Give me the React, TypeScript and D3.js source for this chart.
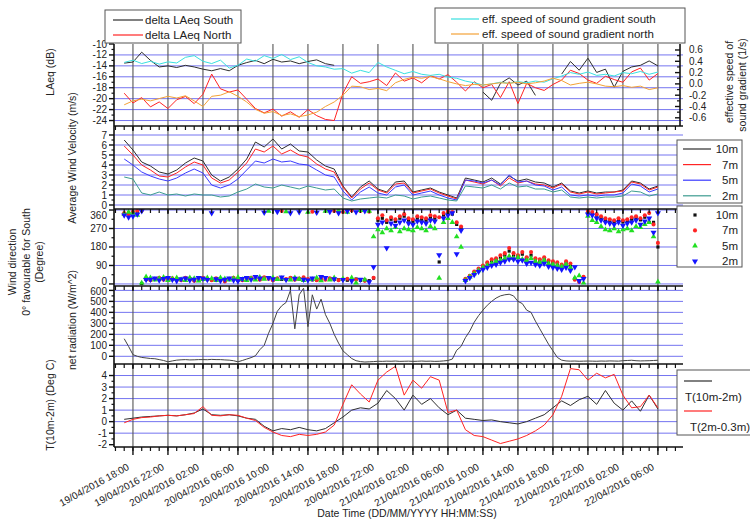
import React, { useEffect, useRef } from 'react';
import * as d3 from 'd3';

// first sample of every series: 19/04/2016 17:00, hourly or half-hourly after that
const firstSample = new Date(2016, 3, 19, 17, 0);

const timeTickLabels = [
  '19/04/2016 18:00', '19/04/2016 22:00', '20/04/2016 02:00', '20/04/2016 06:00',
  '20/04/2016 10:00', '20/04/2016 14:00', '20/04/2016 18:00', '20/04/2016 22:00',
  '21/04/2016 02:00', '21/04/2016 06:00', '21/04/2016 10:00', '21/04/2016 14:00',
  '21/04/2016 18:00', '21/04/2016 22:00', '22/04/2016 02:00', '22/04/2016 06:00'
];

// hourly series (dB)
const laeqSouth = [
  -13.5, -13.3, -11.5, -13.0, -14.2, -14.0, -14.3, -13.9, -14.2, -14.6, -14.9, -14.5, -14.9,
  -13.9, -13.4, -13.0, -13.6, -12.8, -13.3, -13.1, -13.6, -13.2, -12.9, -13.6, -13.9,
  null, null, null, null, null, null, null, null, null, null, null, null, null, null, null, null,
  -18.8, -20.3, -17.2, -16.2, -17.5, -16.8, -19.4, null, null, -15.5, -13.2, -14.8, -12.6,
  -15.2, -14.6, -17.9, -15.0, -14.2, -13.9, -13.1, -14.0
];
const laeqNorth = [
  -19.0, -20.8, -19.8, -21.5, -20.6, -21.8, -20.2, -19.6, -20.9, -19.2, -15.5, -18.2, -18.8,
  -18.4, -20.1, -21.8, -22.6, -21.9, -23.2, -22.4, -23.4, -22.0, -23.1, -23.8, -24.0, -19.0,
  -16.0, -17.2, -16.9, -16.4, -17.6, -15.3, -16.8, -16.2, -17.1, -15.8, -16.4, -15.6, -17.0,
  -18.6, -16.9, -18.0, -17.4, -19.8, -16.9, -20.9, -17.2, -18.0, -18.5, -17.4, -16.6, -14.8,
  -15.4, -16.6, -17.2, -15.9, -16.5, -17.0, -15.1, -14.4, -16.6, -15.4
];
// hourly series (1/s)
const gradSouth = [
  0.38, 0.42, 0.36, 0.40, 0.35, 0.39, 0.37, 0.47, 0.50, 0.40, 0.36, 0.42, 0.28, 0.33, 0.44,
  0.40, 0.50, 0.45, 0.52, 0.43, 0.48, 0.38, 0.32, 0.30, 0.26, 0.27, 0.19, 0.24, 0.20, 0.38,
  0.30, 0.24, 0.18, 0.22, 0.17, 0.15, 0.17, 0.12, 0.10, 0.05, 0.02, -0.02, 0.00, 0.03, 0.01,
  0.04, 0.02, 0.05, 0.03, 0.09, 0.14, 0.20, 0.17, 0.21, 0.15, 0.17, 0.14, 0.20, 0.18, 0.22,
  0.17, 0.21
];
const gradNorth = [
  -0.37, -0.30, -0.27, -0.30, -0.26, -0.22, -0.25, -0.21, -0.30, -0.40, -0.22, -0.20, -0.14,
  -0.22, -0.32, -0.45, -0.52, -0.49, -0.56, -0.53, -0.58, -0.55, -0.50, -0.40, -0.32, -0.20,
  -0.04, -0.05, -0.10, -0.08, -0.12, 0.02, 0.08, 0.12, 0.10, 0.13, 0.09, 0.04, 0.00, -0.03,
  -0.01, -0.02, 0.00, 0.02, 0.01, 0.03, 0.00, 0.02, 0.05, 0.10, 0.06, -0.02, 0.01, 0.03, 0.00,
  -0.04, -0.05, -0.03, -0.06, -0.04, -0.10, -0.07
];
// hourly wind speed (m/s)
const wind10m = [
  6.5, 5.5, 4.3, 3.9, 3.3, 3.1, 3.5, 4.2, 4.7, 4.4, 3.0, 2.4, 2.8, 3.6, 4.6, 6.3, 5.8, 6.6,
  5.6, 6.1, 5.4, 5.3, 4.5, 3.9, 3.6, 1.9, 0.8, 1.8, 2.4, 1.6, 1.3, 2.3, 2.4, 1.3, 1.5, 1.7,
  1.3, 1.0, 0.7, 2.7, 2.5, 2.3, 2.7, 2.1, 2.9, 2.4, 2.6, 2.3, 2.2, 1.8, 2.2, 1.4, 1.2, 1.4,
  1.2, 1.3, 1.3, 1.5, 2.4, 2.2, 1.6, 1.9
];
const wind7m = [
  5.9, 5.0, 4.0, 3.5, 2.9, 2.8, 3.2, 3.8, 4.3, 4.0, 2.7, 2.2, 2.5, 3.3, 4.2, 5.6, 5.3, 5.9,
  5.1, 5.5, 5.0, 4.8, 4.1, 3.6, 3.3, 1.8, 0.7, 1.6, 2.2, 1.5, 1.2, 2.1, 2.2, 1.2, 1.4, 1.6,
  1.2, 0.9, 0.6, 2.5, 2.3, 2.1, 2.5, 1.9, 2.7, 2.2, 2.4, 2.1, 2.0, 1.7, 2.1, 1.3, 1.1, 1.3,
  1.1, 1.2, 1.3, 1.4, 2.3, 2.1, 1.5, 1.8
];
const wind5m = [
  4.6, 4.0, 3.3, 2.9, 2.6, 2.4, 2.7, 3.2, 3.6, 3.2, 2.0, 1.7, 2.0, 2.6, 3.5, 4.4, 4.2, 4.6,
  4.3, 4.4, 4.1, 4.0, 3.5, 3.0, 2.8, 1.4, 0.5, 1.3, 1.8, 1.2, 1.0, 1.8, 2.0, 1.0, 1.2, 1.4,
  1.0, 0.7, 0.5, 2.5, 2.4, 2.2, 2.5, 2.0, 3.0, 2.3, 2.4, 2.0, 1.9, 1.5, 1.8, 1.0, 0.9, 1.0,
  0.9, 1.0, 1.0, 1.2, 2.1, 1.9, 1.3, 1.6
];
const wind2m = [
  2.8, 2.6, 1.2, 1.0, 1.3, 1.0, 1.1, 0.9, 1.1, 1.0, 1.0, 0.8, 0.9, 1.3, 1.6, 2.1, 1.8, 1.7,
  2.0, 1.8, 1.6, 1.9, 1.7, 1.5, 1.6, 0.7, 0.4, 0.6, 0.7, 0.8, 0.7, 1.0, 0.9, 0.6, 0.8, 0.9,
  0.7, 0.5, 0.4, 1.9, 1.8, 1.7, 2.0, 1.6, 2.2, 1.8, 1.9, 1.6, 1.6, 1.3, 1.5, 0.8, 0.7, 0.8,
  0.7, 0.8, 0.8, 0.9, 1.4, 1.3, 0.9, 1.1
];
// half-hourly wind direction (degree)
const dir10m = [
  340, 345, 350, 352, 2, 22, 20, 26, 24, 22, 26, 24, 22, 20, 26, 24, 18, 24, 28, 22,
  20, 26, 20, 16, 24, 26, 18, 20, 26, 28, 24, 22, 30, 26, 20, 26, 22, 22, 28, 22,
  24, 28, 22, 20, 20, 24, 22, 26, 22, 20, 22, 18, 20, 24, 18, 20, 16, 28, 310, 320,
  300, 315, 305, 320, 330, 310, 305, 320, 315, 310, 325, 320, 107, 335, 345, 340, 290, 270, 22, 38,
  55, 70, 85, 100, 112, 118, 130, 140, 160, 140, 135, 145, 125, 140, 120, 112, 122, 108, 102, 98,
  90, 100, 92, 25, 15, 30, 350, 345, 335, 322, 312, 308, 302, 312, 302, 308, 315, 322, 312, 325,
  300, 300, 180
];
const dir7m = [
  345, 340, 350, 355, 358, 25, 18, 25, 30, 20, 22, 28, 20, 18, 30, 25, 15, 22, 30, 24,
  18, 28, 22, 12, 25, 30, 20, 18, 24, 30, 26, 20, 32, 25, 18, 28, 355, 24, 30, 20,
  26, 32, 24, 352, 18, 26, 20, 28, 355, 18, 350, 25, 358, 20, 355, 15, 352, 30, 320, 335,
  310, 325, 315, 330, 340, 320, 315, 330, 325, 320, 335, 330, 325, 345, 355, 350, 300, 280, 25, 40,
  60, 75, 90, 105, 120, 125, 140, 150, 175, 150, 140, 155, 130, 155, 125, 120, 130, 115, 110, 105,
  95, 110, 100, 20, 10, 35, 355, 350, 340, 330, 320, 315, 310, 320, 310, 315, 325, 330, 320, 335,
  345, 290, 200
];
const dir5m = [
  340, 350, 345, 335, 5, 35, 30, 20, 26, 32, 18, 25, 30, 22, 18, 30, 26, 15, 22, 30,
  26, 18, 30, 25, 20, 26, 32, 22, 18, 26, 20, 32, 24, 355, 30, 22, 26, 352, 20, 30,
  24, 18, 350, 22, 30, 16, 355, 20, 30, 358, 25, 350, 30, 5, 358, 20, 355, 230, 265, 250,
  270, 260, 275, 255, 270, 265, 260, 275, 270, 260, 280, 270, 29, 300, 320, 300, 230, 180, 18, 35,
  50, 65, 80, 90, 100, 110, 115, 125, 135, 125, 130, 120, 115, 125, 110, 105, 115, 100, 95, 90,
  85, 95, 80, 30, 40, 5, 330, 310, 300, 280, 265, 260, 270, 255, 265, 270, 260, 280, 275, 290,
  300, 230, 10
];
const dir2m = [
  335, 325, 330, 340, 355, 20, 22, 28, 18, 25, 30, 20, 15, 24, 28, 18, 22, 30, 26, 20,
  345, 24, 16, 22, 28, 18, 14, 25, 30, 22, 35, 28, 348, 30, 24, 352, 32, 20, 345, 26,
  350, 22, 18, 28, 348, 35, 30, 352, 24, 345, 20, 355, 15, 350, 22, 355, 10, 83, 290, 300,
  175, 295, 285, 300, 310, 295, 290, 305, 300, 295, 310, 305, 141, 320, 335, 345, 146, 260, 15, 30,
  45, 60, 70, 80, 90, 95, 105, 110, 120, 120, 110, 115, 100, 105, 95, 90, 100, 85, 80, 75,
  70, 80, 65, 83, 15, 25, 340, 335, 320, 310, 300, 295, 290, 300, 285, 295, 300, 310, 290, 305,
  320, 250, 345
];
// half-hourly net radiation (W/m^2)
const netRadiation = [
  160, 90, 15, 0, -10, -15, -20, -22, -30, -38, -50, -42, -35, -32, -30, -33, -32, -30, -30, -31,
  -28, -30, -30, -33, -35, -40, -50, -38, -25, -12, 5, 60, 100, 210, 300, 410, 460, 490, 600, 250,
  560, 620, 270, 560, 430, 520, 380, 300, 200, 120, 50, 15, -20, -40, -48, -52, -50, -48, -45, -46,
  -44, -45, -43, -46, -45, -44, -46, -45, -43, -45, -44, -46, -45, -42, -38, -25, 55, 90, 170, 230,
  310, 370, 420, 465, 500, 530, 550, 560, 565, 550, 500, 480, 420, 400, 320, 250, 180, 110, 50, -10,
  -35, -42, -44, -43, -45, -44, -43, -44, -45, -43, -44, -42, -43, -44, -40, -38, -36, -40, -42, -41,
  -40, -38, -36
];
// hourly temperature differences (Deg C)
const t10m2m = [
  0.2, 0.3, 0.4, 0.45, 0.5, 0.55, 0.5, 0.6, 0.75, 1.1, 0.6, 0.55, 0.6, 0.5, 0.3, 0.2, -0.4,
  -0.8, -0.6, -0.7, -0.5, -0.7, -0.8, -0.6, -0.1, 0.4, 1.0, 1.2, 1.1, 1.6, 2.7, 2.0, 1.0, 2.3,
  1.5, 2.0, 1.2, 0.6, 1.0, 0.3, 0.2, 0.1, 0.15, 0.0, -0.1, -0.2, 0.0, 0.3, 0.6, 1.2, 1.8, 1.4,
  1.9, 2.2, 1.5, 2.7, 1.6, 1.0, 1.8, 0.9, 2.3, 1.1
];
const t2m03m = [
  -0.1, 0.2, 0.35, 0.4, 0.5, 0.55, 0.5, 0.6, 0.7, 1.3, 0.55, 0.5, 0.6, 0.55, 0.3, 0.1, -0.5,
  -0.9, -1.2, -1.3, -1.1, -1.2, -1.1, -0.9, -0.3, 1.5, 3.2, 2.4, 1.7, 3.6, 4.3, 4.8, 2.3, 3.6,
  2.9, 3.9, 3.6, 0.8, 1.0, -0.7, -1.2, -1.3, -1.6, -1.9, -1.7, -1.5, -1.2, -0.8, -0.3, 0.6,
  2.2, 4.6, 4.5, 3.6, 4.2, 3.8, 4.1, 2.3, 1.2, 1.3, 2.3, 1.2
];

const laeqTicks = [-10, -12, -14, -16, -18, -20, -22, -24];
const gradientTicks = [0.6, 0.4, 0.2, 0, -0.2, -0.4, -0.6];
const windTicks = [0, 1, 2, 3, 4, 5, 6, 7];
const directionTicks = [0, 90, 180, 270, 360];
const radiationTicks = [0, 100, 200, 300, 400, 500, 600];
const tempTicks = [-2, -1, 0, 1, 2, 3, 4];

const FONT = 'Liberation Sans, Arial, Helvetica, sans-serif';
const BLACK = '#2e2e2e';
const RED = '#ff2424';
const CYAN = '#3ae0e0';
const ORANGE = '#f4a236';
const BLUE = '#3a3aff';
const TEAL = '#3c9c90';
const GREEN = '#22e022';
const GRID = '#7474f0';

const App = () => {
  const chartRef = useRef<SVGSVGElement>(null);

  useEffect(() => {
    drawChart();
  }, []);

  const drawChart = () => {
    const svg = d3.select(chartRef.current);
    svg.selectAll('*').remove();

    const left = 114;
    const right = 683;
    const x = d3
      .scaleTime()
      .domain([new Date(2016, 3, 19, 15, 50), new Date(2016, 3, 22, 8, 52)])
      .range([left, right]);
    const hourAt = (i: number) => d3.timeHour.offset(firstSample, i);
    const halfAt = (i: number) => d3.timeMinute.offset(firstSample, i * 30);
    const majorTimes = timeTickLabels.map(d3.timeParse('%d/%m/%Y %H:%M')) as Date[];
    const minorTimes = d3.timeHour.range(x.domain()[0], x.domain()[1]);

    // shift: small nudge of tick labels that sit on a panel edge, so neighbours don't collide
    const panels = [
      { top: 44, bottom: 126, y: d3.scaleLinear().domain([-25, -10]).range([126, 44]), ticks: laeqTicks, grid: laeqTicks.filter(v => v < -10), shift: (v: number) => 0 },
      { top: 126, bottom: 209, y: d3.scaleLinear().domain([-0.4, 7.9]).range([209, 126]), ticks: windTicks, grid: windTicks, shift: (v: number) => 0 },
      { top: 209, bottom: 286, y: d3.scaleLinear().domain([-10, 365]).range([286, 209]), ticks: directionTicks, grid: directionTicks, shift: (v: number) => (v === 360 ? 5 : v === 0 ? -2 : 0) },
      { top: 286, bottom: 364, y: d3.scaleLinear().domain([-70, 640]).range([364, 286]), ticks: radiationTicks, grid: radiationTicks, shift: (v: number) => (v === 600 ? 1.5 : 0) },
      { top: 364, bottom: 447, y: d3.scaleLinear().domain([-2.2, 5]).range([447, 364]), ticks: tempTicks, grid: tempTicks.filter(v => v > -2), shift: (v: number) => 0 }
    ];
    const yGrad = d3.scaleLinear().domain([-0.745, 0.706]).range([126, 44]);

    const defs = svg.append('defs');
    panels.forEach((p, i) => {
      defs
        .append('clipPath')
        .attr('id', `clip-${i}`)
        .append('rect')
        .attr('x', left)
        .attr('y', p.top)
        .attr('width', right - left)
        .attr('height', p.bottom - p.top);
    });

    // grid lines
    const grid = svg.append('g');
    panels.forEach(p => {
      grid
        .selectAll(null)
        .data(p.grid)
        .join('line')
        .attr('x1', left)
        .attr('x2', right)
        .attr('y1', d => p.y(d))
        .attr('y2', d => p.y(d))
        .attr('stroke', GRID)
        .attr('stroke-width', 1);
    });
    grid
      .selectAll(null)
      .data(majorTimes)
      .join('line')
      .attr('x1', d => x(d))
      .attr('x2', d => x(d))
      .attr('y1', 44)
      .attr('y2', 447)
      .attr('stroke', '#555')
      .attr('stroke-width', 1.1);

    // data lines
    const drawLine = (pi: number, values: (number | null)[], at: (i: number) => Date, y: d3.ScaleLinear<number, number>, color: string) => {
      const line = d3
        .line<number | null>()
        .defined(d => d != null)
        .x((d, i) => x(at(i)))
        .y(d => y(d as number));
      svg
        .append('path')
        .datum(values)
        .attr('clip-path', `url(#clip-${pi})`)
        .attr('d', line)
        .attr('fill', 'none')
        .attr('stroke', color)
        .attr('stroke-width', 1);
    };

    drawLine(0, laeqSouth, hourAt, panels[0].y, BLACK);
    drawLine(0, laeqNorth, hourAt, panels[0].y, RED);
    drawLine(0, gradSouth, hourAt, yGrad, CYAN);
    drawLine(0, gradNorth, hourAt, yGrad, ORANGE);

    drawLine(1, wind10m, hourAt, panels[1].y, BLACK);
    drawLine(1, wind7m, hourAt, panels[1].y, RED);
    drawLine(1, wind5m, hourAt, panels[1].y, BLUE);
    drawLine(1, wind2m, hourAt, panels[1].y, TEAL);

    drawLine(3, netRadiation, halfAt, panels[3].y, '#444');

    drawLine(4, t10m2m, hourAt, panels[4].y, BLACK);
    drawLine(4, t2m03m, hourAt, panels[4].y, RED);

    // wind direction scatter
    const markers = [
      { values: dir10m, color: '#111', symbol: d3.symbolSquare, size: 10, rotate: 0 },
      { values: dir7m, color: RED, symbol: d3.symbolCircle, size: 13, rotate: 0 },
      { values: dir5m, color: GREEN, symbol: d3.symbolTriangle, size: 14, rotate: 0 },
      { values: dir2m, color: '#1414ff', symbol: d3.symbolTriangle, size: 16, rotate: 180 }
    ];
    markers.forEach(m => {
      svg
        .append('g')
        .attr('clip-path', 'url(#clip-2)')
        .selectAll('path')
        .data(m.values)
        .join('path')
        .attr('d', d3.symbol().type(m.symbol).size(m.size))
        .attr('transform', (d, i) => `translate(${x(halfAt(i))},${panels[2].y(d)}) rotate(${m.rotate})`)
        .attr('fill', m.color);
    });

    // x axis lines with ticks at the top of panels 2-5 and the bottom of panel 5
    const axisYs = [126, 209, 286, 364, 447];
    axisYs.forEach(ay => {
      const a = svg.append('g');
      a.append('line')
        .attr('x1', left)
        .attr('x2', right)
        .attr('y1', ay)
        .attr('y2', ay)
        .attr('stroke', '#111')
        .attr('stroke-width', 1.6);
      a.selectAll(null)
        .data(minorTimes)
        .join('line')
        .attr('x1', d => x(d))
        .attr('x2', d => x(d))
        .attr('y1', ay)
        .attr('y2', ay + 4)
        .attr('stroke', '#111')
        .attr('stroke-width', 1.2);
      a.selectAll(null)
        .data(majorTimes)
        .join('line')
        .attr('x1', d => x(d))
        .attr('x2', d => x(d))
        .attr('y1', ay)
        .attr('y2', ay + (ay === 447 ? 8 : 5))
        .attr('stroke', '#111')
        .attr('stroke-width', 1.4);
    });

    // left axis
    svg
      .append('line')
      .attr('x1', left)
      .attr('x2', left)
      .attr('y1', 44)
      .attr('y2', 447)
      .attr('stroke', '#111')
      .attr('stroke-width', 1.6);
    panels.forEach(p => {
      const a = svg.append('g');
      const minor = d3.range(p.ticks.length - 1).map(i => (p.ticks[i] + p.ticks[i + 1]) / 2);
      a.selectAll(null)
        .data(minor)
        .join('line')
        .attr('x1', left - 2.5)
        .attr('x2', left)
        .attr('y1', d => p.y(d))
        .attr('y2', d => p.y(d))
        .attr('stroke', '#111')
        .attr('stroke-width', 1.2);
      a.selectAll(null)
        .data(p.ticks)
        .join('line')
        .attr('x1', left - 5)
        .attr('x2', left)
        .attr('y1', d => p.y(d))
        .attr('y2', d => p.y(d))
        .attr('stroke', '#111')
        .attr('stroke-width', 1.4);
      a.selectAll(null)
        .data(p.ticks)
        .join('text')
        .attr('x', left - 7)
        .attr('y', d => p.y(d) + 3.5 + p.shift(d))
        .attr('text-anchor', 'end')
        .attr('font-family', FONT)
        .attr('font-size', 10)
        .attr('fill', '#222')
        .text(d => String(d));
    });

    // right axis of the top panel
    const ra = svg.append('g');
    ra.append('line')
      .attr('x1', 680)
      .attr('x2', 680)
      .attr('y1', 44)
      .attr('y2', 126)
      .attr('stroke', '#111')
      .attr('stroke-width', 1.6);
    const gradMinor = d3.range(gradientTicks.length - 1).map(i => (gradientTicks[i] + gradientTicks[i + 1]) / 2);
    ra.selectAll(null)
      .data(gradMinor)
      .join('line')
      .attr('x1', 677)
      .attr('x2', 680)
      .attr('y1', d => yGrad(d))
      .attr('y2', d => yGrad(d))
      .attr('stroke', '#111')
      .attr('stroke-width', 1.2);
    ra.selectAll(null)
      .data(gradientTicks)
      .join('line')
      .attr('x1', 675)
      .attr('x2', 680)
      .attr('y1', d => yGrad(d))
      .attr('y2', d => yGrad(d))
      .attr('stroke', '#111')
      .attr('stroke-width', 1.4);
    ra.selectAll(null)
      .data(gradientTicks)
      .join('text')
      .attr('x', 689)
      .attr('y', d => yGrad(d) + 3.5)
      .attr('font-family', FONT)
      .attr('font-size', 10)
      .attr('fill', '#222')
      .text(d => d.toFixed(1));

    // time tick labels
    svg
      .append('g')
      .selectAll('text')
      .data(majorTimes)
      .join('text')
      .attr('transform', d => `translate(${x(d) - 3},${469}) rotate(-29)`)
      .attr('text-anchor', 'end')
      .attr('font-family', FONT)
      .attr('font-size', 10)
      .attr('fill', '#222')
      .text((d, i) => timeTickLabels[i]);

    // axis titles
    const title = (tx: number, ty: number, text: string, rotate = -90) =>
      svg
        .append('text')
        .attr('transform', `translate(${tx},${ty}) rotate(${rotate})`)
        .attr('text-anchor', 'middle')
        .attr('font-family', FONT)
        .attr('font-size', 10.5)
        .attr('fill', '#222')
        .text(text);
    title(54, 72, 'LAeq (dB)');
    title(76, 158, 'Average Wind Velocity (m/s)');
    title(16, 262, 'Wind direction');
    title(30, 262, '0° favourable for South');
    title(43, 262, '(Degree)');
    title(76, 320, 'net radiation (W/m^2)');
    title(54, 405, 'T(10m-2m) (Deg C)');
    title(733, 82, 'effective speed of');
    title(746, 85, 'sound gradient (1/s)');
    title(407, 517, 'Date Time (DD/MM/YYYY HH:MM:SS)', 0);

    // legends
    const box = (bx: number, by: number, bw: number, bh: number) =>
      svg
        .append('rect')
        .attr('x', bx)
        .attr('y', by)
        .attr('width', bw)
        .attr('height', bh)
        .attr('fill', '#fff')
        .attr('stroke', '#555')
        .attr('stroke-width', 1);
    const legendLine = (x1: number, x2: number, ly: number, color: string) =>
      svg
        .append('line')
        .attr('x1', x1)
        .attr('x2', x2)
        .attr('y1', ly)
        .attr('y2', ly)
        .attr('stroke', color)
        .attr('stroke-width', 1.2);
    const legendText = (lx: number, ly: number, text: string, anchor = 'start') =>
      svg
        .append('text')
        .attr('x', lx)
        .attr('y', ly)
        .attr('text-anchor', anchor)
        .attr('font-family', FONT)
        .attr('font-size', 11.5)
        .attr('fill', '#222')
        .text(text);

    box(105, 10, 136, 33);
    [
      { label: 'delta LAeq South', color: BLACK },
      { label: 'delta LAeq North', color: RED }
    ].forEach((e, i) => {
      legendLine(113, 143, 20 + i * 15, e.color);
      legendText(145, 24 + i * 15, e.label);
    });

    box(435, 8, 250, 35);
    [
      { label: 'eff. speed of sound gradient south', color: CYAN },
      { label: 'eff. speed of sound gradient north', color: ORANGE }
    ].forEach((e, i) => {
      legendLine(451, 479, 19 + i * 15, e.color);
      legendText(482, 23 + i * 15, e.label);
    });

    box(677, 140, 65, 63);
    [
      { label: '10m', color: BLACK },
      { label: '7m', color: RED },
      { label: '5m', color: BLUE },
      { label: '2m', color: TEAL }
    ].forEach((e, i) => {
      legendLine(683, 711, 149 + i * 15.6, e.color);
      legendText(738, 153 + i * 15.6, e.label, 'end');
    });

    box(677, 206, 65, 61);
    markers.forEach((m, i) => {
      const label = ['10m', '7m', '5m', '2m'][i];
      svg
        .append('path')
        .attr('d', d3.symbol().type(m.symbol).size(m.size)())
        .attr('transform', `translate(695,${215 + i * 15.4}) rotate(${m.rotate})`)
        .attr('fill', m.color);
      legendText(738, 219 + i * 15.4, label, 'end');
    });

    box(677, 370, 80, 65);
    legendLine(684, 712, 381, BLACK);
    legendText(685, 401, 'T(10m-2m)');
    legendLine(684, 712, 411, RED);
    legendText(690, 431, 'T(2m-0.3m)');
  };

  return (
    <svg
      ref={chartRef}
      width={750}
      height={521}
      style={{ position: 'absolute', left: 0, top: 0, background: '#fff' }}
    ></svg>
  );
};

export default App;
